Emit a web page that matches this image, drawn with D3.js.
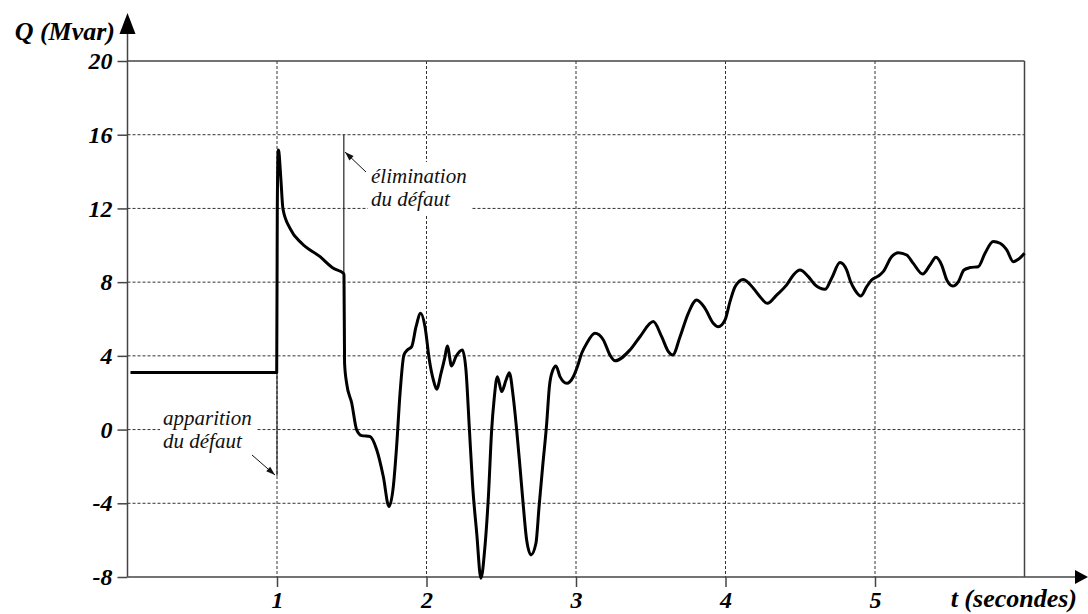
<!DOCTYPE html>
<html>
<head>
<meta charset="utf-8">
<script src="https://cdn.jsdelivr.net/npm/d3@7"></script>
<style>
  html, body { margin: 0; padding: 0; background: #fff; }
  svg { display: block; }
</style>
</head>
<body>
<div id="chart"></div>
<script>
// time (s) and reactive power Q (Mvar)
var tSec = [0.02, 0.998, 1.002, 1.008, 1.012, 1.025, 1.04, 1.087, 1.165, 1.288, 1.377, 1.444, 1.448, 1.452,
  1.466, 1.5, 1.533, 1.566, 1.622, 1.667, 1.711, 1.749, 1.778, 1.8, 1.823, 1.849, 1.872, 1.901, 1.93, 1.961,
  1.99, 2.019, 2.046, 2.068, 2.097, 2.124, 2.139, 2.168, 2.197, 2.24, 2.264, 2.286, 2.309, 2.336, 2.364,
  2.391, 2.414, 2.436, 2.452, 2.474, 2.503, 2.532, 2.554, 2.58, 2.603, 2.625, 2.648, 2.67, 2.699, 2.732,
  2.753, 2.777, 2.804, 2.822, 2.844, 2.866, 2.893, 2.938, 2.982, 3.009, 3.038, 3.072, 3.127, 3.183, 3.227,
  3.261, 3.361, 3.428, 3.517, 3.573, 3.618, 3.647, 3.696, 3.751, 3.807, 3.863, 3.918, 3.952, 3.997, 4.03,
  4.064, 4.119, 4.186, 4.231, 4.28, 4.342, 4.409, 4.454, 4.498, 4.554, 4.599, 4.666, 4.71, 4.766, 4.81,
  4.837, 4.866, 4.906, 4.944, 4.977, 5.022, 5.055, 5.111, 5.156, 5.212, 5.256, 5.319, 5.368, 5.408, 5.446,
  5.48, 5.52, 5.557, 5.595, 5.635, 5.691, 5.736, 5.791, 5.836, 5.881, 5.925, 5.959, 6.0];
var qMvar = [3.1, 3.1, 12, 15.17, 15.1, 13.7, 11.97, 10.92, 10.11, 9.38, 8.75, 8.48, 8.4, 3.6,
  2.5, 1.43, -0.02, -0.33, -0.38, -1.1, -2.55, -4.18, -3.1, -0.93, 1.97, 4.05, 4.32, 4.5, 5.58, 6.31,
  5.58, 3.78, 2.69, 2.19, 3.05, 3.96, 4.54, 3.45, 3.96, 4.32, 3.23, 0.16, -3.1, -5.63, -8.07,
  -6.35, -3.64, 0.0, 1.61, 2.87, 2.06, 2.69, 3.09, 1.79, 0, -2.0, -4.18, -6.0, -6.8, -6.17,
  -4.18, -2.0, 0.34, 2.33, 3.2, 3.45, 2.87, 2.51, 2.87, 3.41, 4.14, 4.68, 5.22, 4.86, 4.05,
  3.73, 4.32, 5.04, 5.86, 5.04, 4.23, 4.05, 5.04, 6.31, 7.03, 6.58, 5.77, 5.58, 5.95, 6.94,
  7.75, 8.15, 7.67, 7.21, 6.85, 7.3, 7.85, 8.39, 8.66, 8.3, 7.85, 7.61, 8.21, 9.06, 8.66,
  8.02, 7.57, 7.25, 7.75, 8.12, 8.33, 8.57, 9.38, 9.6, 9.47, 9.02, 8.44, 8.93, 9.35, 8.93,
  8.12, 7.79, 8.02, 8.66, 8.79, 8.84, 9.57, 10.2, 10.11, 9.75, 9.11, 9.24, 9.57];

var yTicks = [-8, -4, 0, 4, 8, 12, 16, 20];
var xTicks = [1, 2, 3, 4, 5];
var tFault = 1.0, tClear = 1.447;

var SERIF = '"Liberation Serif", "Times New Roman", Times, serif';
var width = 1088, height = 614;
var x = d3.scaleLinear().domain([0, 6]).range([127.5, 1024.5]);
var y = d3.scaleLinear().domain([-8, 20]).range([577, 61]);

var svg = d3.select('#chart').append('svg').attr('width', width).attr('height', height);

function boldItalic(sel, size) {
  sel.style('font-family', SERIF).style('font-style', 'italic').style('font-weight', 'bold')
    .style('font-size', size + 'px').attr('fill', '#000');
}

// dashed grid
svg.append('g').selectAll('line').data(yTicks.filter(function (d) { return d > -8 && d < 20; }))
  .join('line')
  .attr('x1', x(0)).attr('x2', x(6))
  .attr('y1', function (d) { return y(d); }).attr('y2', function (d) { return y(d); })
  .attr('stroke', '#333').attr('stroke-width', 1).attr('stroke-dasharray', '3,2');
svg.append('g').selectAll('line').data(xTicks)
  .join('line')
  .attr('x1', function (d) { return x(d); }).attr('x2', function (d) { return x(d); })
  .attr('y1', y(20)).attr('y2', y(-8))
  .attr('stroke', '#333').attr('stroke-width', 1).attr('stroke-dasharray', '3,2');

// frame top / right
svg.append('line').attr('x1', x(0)).attr('x2', x(6)).attr('y1', y(20)).attr('y2', y(20))
  .attr('stroke', '#444').attr('stroke-width', 1.5);
svg.append('line').attr('x1', x(6)).attr('x2', x(6)).attr('y1', y(20)).attr('y2', y(-8))
  .attr('stroke', '#444').attr('stroke-width', 1.5);

// axes
var yAxis = svg.append('g').attr('transform', 'translate(' + x(0) + ',0)')
  .call(d3.axisLeft(y).tickValues(yTicks).tickSize(10).tickPadding(5).tickFormat(function (d) { return String(d); }));
var xAxis = svg.append('g').attr('transform', 'translate(0,' + y(-8) + ')')
  .call(d3.axisBottom(x).tickValues(xTicks).tickSize(10).tickPadding(4).tickFormat(function (d) { return String(d); }));
[yAxis, xAxis].forEach(function (g) {
  g.attr('font-family', null).attr('font-size', null);
  g.select('.domain').remove();
  g.selectAll('.tick line').attr('stroke', '#444').attr('stroke-width', 1.5);
  boldItalic(g.selectAll('.tick text'), 24);
});

svg.append('line').attr('x1', x(0)).attr('x2', x(0)).attr('y1', y(-8)).attr('y2', 30)
  .attr('stroke', '#444').attr('stroke-width', 1.5);
svg.append('line').attr('x1', x(0)).attr('x2', 1078).attr('y1', y(-8)).attr('y2', y(-8))
  .attr('stroke', '#444').attr('stroke-width', 1.5);
svg.append('path').attr('d', 'M' + x(0) + ',13 L' + (x(0) - 8) + ',34 L' + (x(0) + 8) + ',34 Z').attr('fill', '#000');
svg.append('path').attr('d', 'M1088,' + y(-8) + ' L1075,' + (y(-8) - 7) + ' L1075,' + (y(-8) + 7) + ' Z').attr('fill', '#000');

boldItalic(svg.append('text').attr('x', 115).attr('y', 40).attr('text-anchor', 'end').text('Q (Mvar)'), 26);
boldItalic(svg.append('text').attr('x', 1077).attr('y', 607).attr('text-anchor', 'end').text('t (secondes)'), 26);

// event markers
svg.append('line').attr('x1', x(tFault)).attr('x2', x(tFault)).attr('y1', y(3.1)).attr('y2', y(-2.5))
  .attr('stroke', '#222').attr('stroke-width', 1.2);
svg.append('line').attr('x1', x(tClear)).attr('x2', x(tClear)).attr('y1', y(16)).attr('y2', y(8.45))
  .attr('stroke', '#222').attr('stroke-width', 1.2);

// curve
var pts = tSec.map(function (t, i) { return [t, qMvar[i]]; });
svg.append('path').datum(pts)
  .attr('fill', 'none').attr('stroke', '#000').attr('stroke-width', 3).attr('stroke-linejoin', 'round')
  .attr('d', d3.line().x(function (d) { return x(d[0]); }).y(function (d) { return y(d[1]); }).curve(d3.curveMonotoneX));

// annotations
function note(x0, y0, lines, bx, by, bw, bh) {
  svg.append('rect').attr('x', bx).attr('y', by).attr('width', bw).attr('height', bh).attr('fill', '#fff');
  lines.forEach(function (s, i) {
    svg.append('text').attr('x', x0).attr('y', y0 + i * 23)
      .style('font-family', SERIF).style('font-style', 'italic').style('font-size', '21px')
      .attr('fill', '#111').text(s);
  });
}
note(371, 183, ['élimination', 'du défaut'], 368, 162, 104, 52);
note(163, 425, ['apparition', 'du défaut'], 160, 405, 97, 50);

function arrow(x1, y1, x2, y2) {
  svg.append('line').attr('x1', x1).attr('y1', y1).attr('x2', x2).attr('y2', y2)
    .attr('stroke', '#111').attr('stroke-width', 1);
  var a = Math.atan2(y2 - y1, x2 - x1), L = 9, w = 3;
  var bx = x2 - L * Math.cos(a), by = y2 - L * Math.sin(a);
  svg.append('path').attr('d', 'M' + x2 + ',' + y2 +
    ' L' + (bx - w * Math.sin(a)) + ',' + (by + w * Math.cos(a)) +
    ' L' + (bx + w * Math.sin(a)) + ',' + (by - w * Math.cos(a)) + ' Z').attr('fill', '#111');
}
arrow(366, 172, 345, 152);
arrow(252, 455, 275, 475);
</script>
</body>
</html>
